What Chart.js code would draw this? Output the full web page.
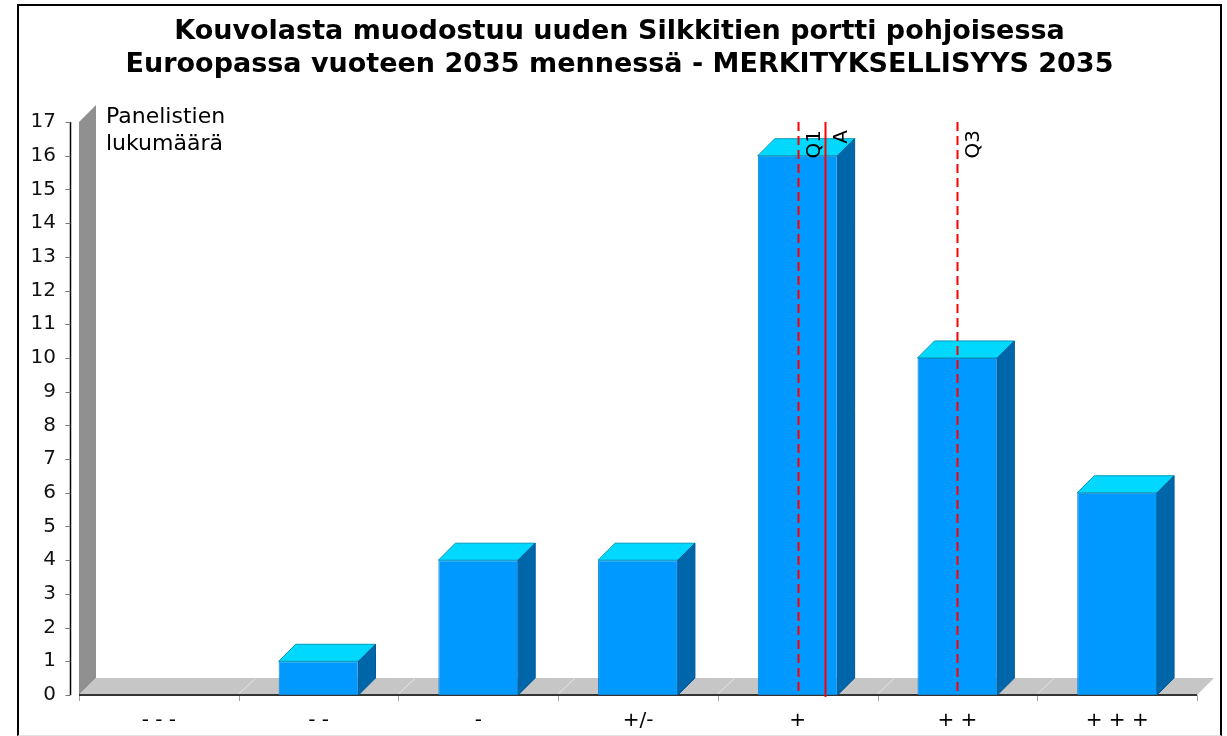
<!DOCTYPE html>
<html>
<head>
<meta charset="utf-8">
<script src="https://cdn.jsdelivr.net/npm/chart.js@4.4.0/dist/chart.umd.min.js"></script>
<style>
  html, body { margin: 0; padding: 0; background: #fff; overflow: hidden; }
  #frame { position: absolute; left: 17px; top: 4px; width: 1201px; height: 729px; border: 2px solid #000; border-bottom: 1px solid #e4e4e4; }
  canvas { display: block; }
</style>
</head>
<body>
<div id="frame"><canvas id="chart" width="1201" height="729"></canvas></div>
<script>
// chart data
const titleLines = [
  "Kouvolasta muodostuu uuden Silkkitien portti pohjoisessa",
  "Euroopassa vuoteen 2035 mennessä - MERKITYKSELLISYYS 2035"
];
const categories = ["- - -", "- -", "-", "+/-", "+", "+ +", "+ + +"];
const counts = [0, 1, 4, 4, 16, 10, 6];
const yMax = 17;
const axisTitle = ["Panelistien", "lukumäärä"];

// reference lines (positions on the category scale)
const markerLabels = ["Q1", "A", "Q3"];
const markerValues = [4, 4.17, 5];
const markerDashed = [true, false, true];

const FONT = "'DejaVu Sans', Verdana, sans-serif";
const DX = 17, DY = 17;

const scene = {
  id: "scene",
  beforeDatasetsDraw(chart) {
    const { ctx, chartArea: a, scales: { y } } = chart;
    const n = categories.length;
    const step = (a.right - a.left) / n;
    ctx.save();
    // left wall
    ctx.fillStyle = "#909090";
    ctx.beginPath();
    ctx.moveTo(a.left, a.bottom);
    ctx.lineTo(a.left, a.top);
    ctx.lineTo(a.left + DX, a.top - DY);
    ctx.lineTo(a.left + DX, a.bottom - DY);
    ctx.closePath();
    ctx.fill();
    // floor
    ctx.fillStyle = "#c6c6c6";
    ctx.beginPath();
    ctx.moveTo(a.left, a.bottom);
    ctx.lineTo(a.right, a.bottom);
    ctx.lineTo(a.right + DX, a.bottom - DY);
    ctx.lineTo(a.left + DX, a.bottom - DY);
    ctx.closePath();
    ctx.fill();
    ctx.strokeStyle = "#e4e4e4";
    ctx.lineWidth = 1;
    for (let k = 1; k < n; k++) {
      const bx = a.left + k * step;
      ctx.beginPath();
      ctx.moveTo(bx, a.bottom - 1);
      ctx.lineTo(bx + DX, a.bottom - DY);
      ctx.stroke();
    }
    // bottom axis line + ticks
    ctx.strokeStyle = "#a0a0a0";
    for (let k = 0; k <= n; k++) {
      const bx = Math.round(a.left + k * step) + 0.5;
      ctx.beginPath();
      ctx.moveTo(bx, a.bottom);
      ctx.lineTo(bx, a.bottom + 6);
      ctx.stroke();
    }
    ctx.strokeStyle = "#333";
    ctx.lineWidth = 2;
    ctx.beginPath();
    ctx.moveTo(a.left, a.bottom);
    ctx.lineTo(a.right, a.bottom);
    ctx.stroke();
    // y axis line + ticks
    const ax = a.left - 8.5;
    ctx.strokeStyle = "#000";
    ctx.lineWidth = 1.5;
    ctx.beginPath();
    ctx.moveTo(ax, a.top);
    ctx.lineTo(ax, a.bottom);
    ctx.stroke();
    ctx.lineWidth = 1;
    ctx.strokeStyle = "#777";
    for (let v = 0; v <= yMax; v++) {
      const py = Math.round(y.getPixelForValue(v)) + 0.5;
      ctx.beginPath();
      ctx.moveTo(ax - 5, py);
      ctx.lineTo(ax, py);
      ctx.stroke();
    }
    ctx.restore();
  },
  afterDatasetsDraw(chart) {
    const { ctx, chartArea: a, scales: { x } } = chart;
    const meta = chart.getDatasetMeta(0);
    ctx.save();
    meta.data.forEach((bar, i) => {
      if (!counts[i]) return;
      const p = bar.getProps(["x", "y", "base", "width"], true);
      const l = p.x - p.width / 2, r = p.x + p.width / 2;
      // top face
      ctx.fillStyle = "#00d8ff";
      ctx.strokeStyle = "#0099bb";
      ctx.lineWidth = 1;
      ctx.beginPath();
      ctx.moveTo(l, p.y);
      ctx.lineTo(l + DX, p.y - DY);
      ctx.lineTo(r + DX, p.y - DY);
      ctx.lineTo(r, p.y);
      ctx.closePath();
      ctx.fill();
      ctx.stroke();
      // side face
      ctx.fillStyle = "#0066aa";
      ctx.strokeStyle = "#005a96";
      ctx.beginPath();
      ctx.moveTo(r, p.y);
      ctx.lineTo(r + DX, p.y - DY);
      ctx.lineTo(r + DX, p.base - DY);
      ctx.lineTo(r, p.base);
      ctx.closePath();
      ctx.fill();
      ctx.stroke();
    });
    // Q1 / A / Q3 lines
    ctx.strokeStyle = "#ff0000";
    ctx.fillStyle = "#000";
    ctx.font = "20px " + FONT;
    markerValues.forEach((v, i) => {
      const px = Math.round(x.getPixelForValue(v)) + 0.5;
      ctx.lineWidth = 2;
      ctx.setLineDash(markerDashed[i] ? [9, 5] : []);
      ctx.beginPath();
      ctx.moveTo(px, a.top);
      ctx.lineTo(px, a.bottom + (markerDashed[i] ? -2 : 2));
      ctx.stroke();
      ctx.save();
      ctx.translate(px + 21, a.top + 8);
      ctx.rotate(-Math.PI / 2);
      ctx.textAlign = "right";
      ctx.textBaseline = "alphabetic";
      ctx.fillText(markerLabels[i], 0, 0);
      ctx.restore();
    });
    ctx.setLineDash([]);
    // y axis title inside the plot
    ctx.font = "22px " + FONT;
    ctx.textAlign = "left";
    ctx.textBaseline = "alphabetic";
    axisTitle.forEach((t, i) => ctx.fillText(t, a.left + 27, a.top + 1 + i * 27));
    ctx.restore();
  }
};

new Chart(document.getElementById("chart"), {
  type: "bar",
  data: {
    labels: categories,
    datasets: [{
      data: counts,
      backgroundColor: "#0099ff",
      borderColor: "#0a80cf",
      borderWidth: (c) => (counts[c.dataIndex] ? 1 : 0),
      borderSkipped: false,
      barPercentage: 0.5,
      categoryPercentage: 1.0
    }]
  },
  options: {
    responsive: false,
    animation: false,
    devicePixelRatio: 1,
    plugins: {
      legend: { display: false },
      tooltip: { enabled: false },
      title: {
        display: true,
        text: titleLines,
        color: "#000",
        font: { family: FONT, size: 27, weight: "bold", lineHeight: 33 / 27 },
        padding: { top: 9, bottom: 41 }
      }
    },
    scales: {
      x: {
        grid: { display: false },
        border: { display: false },
        ticks: { color: "#000", font: { family: FONT, size: 20 }, padding: 6 },
        afterFit: (s) => { s.height = 40; }
      },
      y: {
        min: 0,
        max: yMax,
        grid: { display: false, drawTicks: false },
        border: { display: false },
        ticks: { stepSize: 1, color: "#111", font: { family: FONT, size: 20 }, padding: 23 },
        afterFit: (s) => { s.width = 60; }
      },
      // empty right margin, keeps the title centred over the whole frame
      yRight: {
        position: "right",
        grid: { display: false, drawTicks: false },
        border: { display: false },
        ticks: { display: false },
        afterFit: (s) => { s.width = 23; }
      }
    }
  },
  plugins: [scene]
});
</script>
</body>
</html>
